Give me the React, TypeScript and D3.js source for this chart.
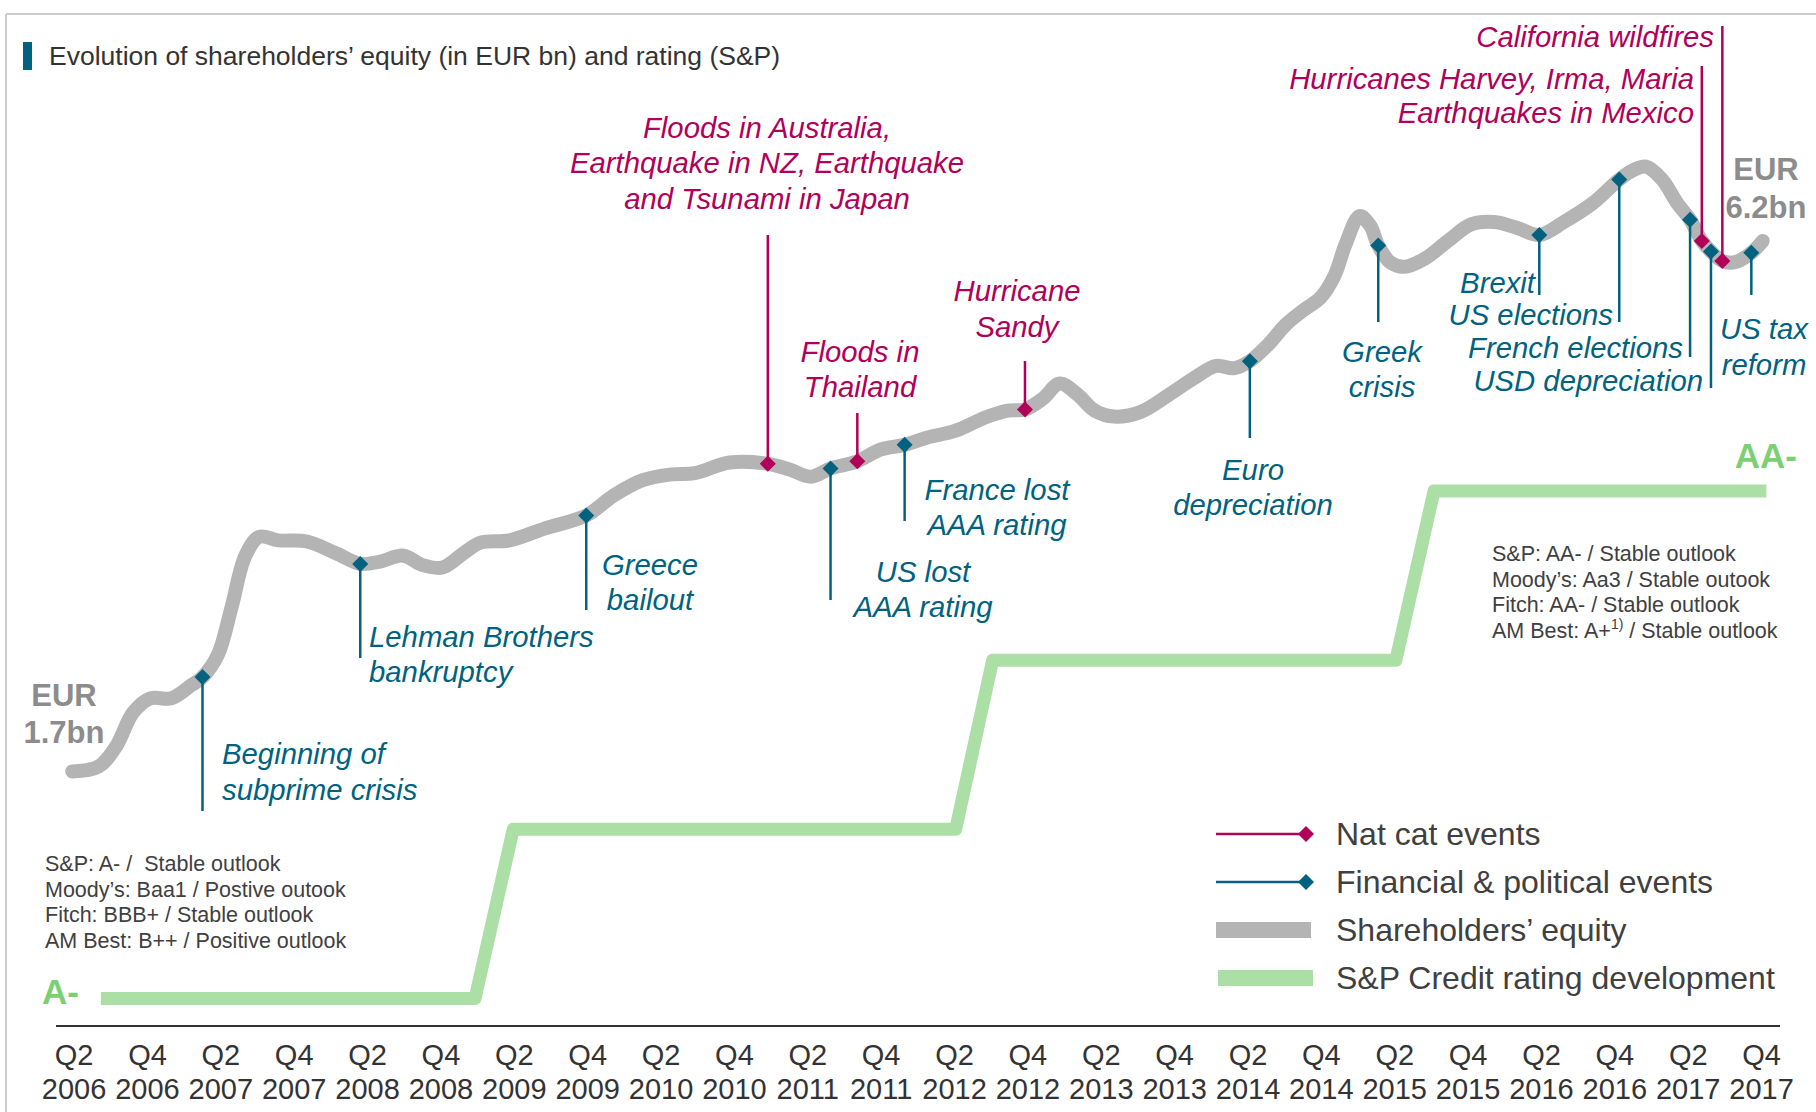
import React from "react";
import * as d3 from "d3";

// ---------- DATA ----------
const quarterLabels = ["Q2","Q4","Q2","Q4","Q2","Q4","Q2","Q4","Q2","Q4","Q2","Q4","Q2","Q4","Q2","Q4","Q2","Q4","Q2","Q4","Q2","Q4","Q2","Q4"];
const yearLabels = ["2006","2006","2007","2007","2008","2008","2009","2009","2010","2010","2011","2011","2012","2012","2013","2013","2014","2014","2015","2015","2016","2016","2017","2017"];

// time in quarters since Q2 2006, equity in EUR bn (stylised curve)
const equityT = [-0.05,0.66,1.14,1.61,2.08,2.65,3.19,3.5,3.92,4.29,4.67,5.05,5.56,6.35,7.14,7.8,8.34,8.97,9.5,10.04,10.61,11.08,11.87,12.82,13.96,14.71,15.5,16.29,16.92,17.87,18.91,19.51,20.08,20.62,21.35,21.98,22.64,23.24,24.03,24.82,25.45,25.92,26.4,26.87,27.34,27.82,28.35,29.08,29.87,30.5,31.13,31.61,32.05,32.55,33.03,33.5,33.98,34.35,34.67,35.04,35.33,35.55,35.87,36.25,36.82,37.45,38.08,38.71,39.34,39.94,40.61,41.4,42.12,42.5,42.85,43.29,43.7,44.05,44.37,44.62,44.93,45.28,45.72,46.03];
const equityBn = [1.7,1.74,1.91,2.2,2.32,2.32,2.43,2.5,2.69,3.09,3.53,3.69,3.66,3.65,3.55,3.46,3.48,3.53,3.45,3.43,3.55,3.64,3.66,3.76,3.87,4.04,4.17,4.22,4.23,4.32,4.31,4.26,4.2,4.27,4.33,4.43,4.47,4.53,4.59,4.7,4.76,4.77,4.86,4.99,4.9,4.76,4.71,4.75,4.9,5.03,5.14,5.12,5.18,5.32,5.49,5.61,5.72,5.9,6.18,6.41,6.33,6.16,6.02,5.98,6.05,6.2,6.34,6.36,6.31,6.25,6.36,6.52,6.72,6.8,6.83,6.72,6.52,6.38,6.2,6.11,6.03,6.02,6.1,6.2];

const ratingLevels = ["A-","A","A+","AA-"];
const ratingT = [0.73,10.93,11.97,24.03,25.04,36.03,37.07,46.13];
const ratingIdx = [0,0,1,1,2,2,3,3];

const eventNames = ["Beginning of subprime crisis","Lehman Brothers bankruptcy","Greece bailout","Floods in Australia, Earthquake in NZ, Earthquake and Tsunami in Japan","US lost AAA rating","Floods in Thailand","France lost AAA rating","Hurricane Sandy","Euro depreciation","Greek crisis","Brexit","US elections","French elections","Hurricanes Harvey, Irma, Maria Earthquakes in Mexico","USD depreciation","California wildfires","US tax reform"];
const eventTypes = ["fin","fin","fin","cat","fin","cat","fin","cat","fin","fin","fin","fin","fin","cat","fin","cat","fin"];
const eventT = [3.5,7.8,13.96,18.91,20.62,21.35,22.64,25.92,32.05,35.55,39.94,42.12,44.05,44.37,44.62,44.93,45.72];

const leftRatings = ["S&P: A- /\u00a0 Stable outlook","Moody\u2019s: Baa1 / Postive outook","Fitch: BBB+ / Stable outlook","AM Best: B++ / Positive outlook"];
const rightRatings = ["S&P: AA- / Stable outlook","Moody\u2019s: Aa3 / Stable outook","Fitch: AA- / Stable outlook","AM Best: A+"];

const legendLabels = ["Nat cat events","Financial & political events","Shareholders\u2019 equity","S&P Credit rating development"];

// ---------- LAYOUT (annotation placement) ----------
const annotLayout = [
  { stem: 811, anchor: "start", x: 222, lines: ["Beginning of","subprime crisis"], ys: [753, 789] },
  { stem: 658, anchor: "start", x: 369, lines: ["Lehman Brothers","bankruptcy"], ys: [636, 671] },
  { stem: 610, anchor: "middle", x: 650, lines: ["Greece","bailout"], ys: [564, 599] },
  { stem: 235, anchor: "middle", x: 767, lines: ["Floods in Australia,","Earthquake in NZ, Earthquake","and Tsunami in Japan"], ys: [127, 162, 198] },
  { stem: 600, anchor: "middle", x: 923, lines: ["US lost","AAA rating"], ys: [571, 606] },
  { stem: 413, anchor: "middle", x: 860, lines: ["Floods in","Thailand"], ys: [351, 386] },
  { stem: 521, anchor: "middle", x: 997, lines: ["France lost","AAA rating"], ys: [489, 524] },
  { stem: 361, anchor: "middle", x: 1017, lines: ["Hurricane","Sandy"], ys: [290, 326] },
  { stem: 438, anchor: "middle", x: 1253, lines: ["Euro","depreciation"], ys: [469, 504] },
  { stem: 322, anchor: "middle", x: 1382, lines: ["Greek","crisis"], ys: [351, 386] },
  { stem: 295, anchor: "end", x: 1535, lines: ["Brexit"], ys: [282] },
  { stem: 322, anchor: "end", x: 1613, lines: ["US elections"], ys: [314] },
  { stem: 357, anchor: "end", x: 1683, lines: ["French elections"], ys: [347] },
  { stem: 66, anchor: "end", x: 1694, lines: ["Hurricanes Harvey, Irma, Maria","Earthquakes in Mexico"], ys: [78, 112] },
  { stem: 388, anchor: "end", x: 1703, lines: ["USD depreciation"], ys: [380] },
  { stem: 26, anchor: "end", x: 1714, lines: ["California wildfires"], ys: [36] },
  { stem: 295, anchor: "middle", x: 1764, lines: ["US tax","reform"], ys: [328, 364] },
];

const W = 1816;
const H = 1112;
const MAGENTA = "#b1005a";
const TEAL = "#00627f";
const GREY_LINE = "#b4b4b4";
const GREEN_LINE = "#acdfa6";
const GREEN_TEXT = "#7dcf74";
const TEXT = "#404040";
const FONT = "'Liberation Sans', Arial, Helvetica, sans-serif";

export default function App() {
  const x = d3.scaleLinear().domain([0, 46]).range([74.1, 1761.6]);
  const yEq = d3.scaleLinear().domain([1.7, 6.2]).range([771.4, 240.9]);
  const yRt = d3.scaleLinear().domain([0, 3]).range([998.4, 491.1]);

  const eqPts = equityT.map((t, i) => [t, equityBn[i]] as [number, number]);
  const eqLine = d3
    .line<[number, number]>()
    .x((d) => x(d[0]))
    .y((d) => yEq(d[1]))
    .curve(d3.curveCatmullRom.alpha(0.5));

  const rtPts = ratingT.map((t, i) => [t, ratingIdx[i]] as [number, number]);
  const rtLine = d3
    .line<[number, number]>()
    .x((d) => x(d[0]))
    .y((d) => yRt(d[1]));

  const eqAt = (t: number) => {
    const i = Math.max(1, Math.min(equityT.length - 1, d3.bisectLeft(equityT, t)));
    const t0 = equityT[i - 1], t1 = equityT[i];
    const f = (t - t0) / (t1 - t0);
    return equityBn[i - 1] + f * (equityBn[i] - equityBn[i - 1]);
  };

  const diamond = (cx: number, cy: number, r: number) =>
    `M${cx},${cy - r}L${cx + r},${cy}L${cx},${cy + r}L${cx - r},${cy}Z`;

  const legendY = [834, 882, 930, 978];

  return (
    <svg
      width={W}
      height={H}
      viewBox={`0 0 ${W} ${H}`}
      style={{ position: "absolute", left: 0, top: 0, background: "#fff" }}
      fontFamily={FONT}
    >
      <rect x={0} y={0} width={W} height={H} fill="#fff" />
      {/* frame */}
      <line x1={6} y1={14} x2={W} y2={14} stroke="#cccccc" strokeWidth={2} />
      <line x1={6} y1={14} x2={6} y2={H} stroke="#cccccc" strokeWidth={2} />

      {/* title */}
      <rect x={23} y={42} width={9} height={28} fill={TEAL} />
      <text x={49} y={56} dominantBaseline="central" fontSize={26.5} fill="#333">
        Evolution of shareholders’ equity (in EUR bn) and rating (S&amp;P)
      </text>

      {/* rating step line */}
      <path d={rtLine(rtPts) || ""} fill="none" stroke={GREEN_LINE} strokeWidth={13} strokeLinejoin="round" />

      {/* equity line */}
      <path d={eqLine(eqPts) || ""} fill="none" stroke={GREY_LINE} strokeWidth={14} strokeLinecap="round" strokeLinejoin="round" />

      {/* events */}
      {eventT.map((t, i) => {
        const cx = x(t);
        const cy = yEq(eqAt(t));
        const col = eventTypes[i] === "cat" ? MAGENTA : TEAL;
        const L = annotLayout[i];
        return (
          <g key={eventNames[i]}>
            <line x1={cx} y1={cy} x2={cx} y2={L.stem} stroke={col} strokeWidth={2.5} />
            <path d={diamond(cx, cy, 8)} fill={col} />
            <text textAnchor={L.anchor as any} fontSize={29.3} fontStyle="italic" fill={col}>
              {L.lines.map((ln, j) => (
                <tspan key={j} x={L.x} y={L.ys[j]} dominantBaseline="central">
                  {ln}
                </tspan>
              ))}
            </text>
          </g>
        );
      })}

      {/* EUR labels */}
      <text textAnchor="middle" fontSize={31} fontWeight="bold" fill="#8c8c8c">
        <tspan x={64} y={695} dominantBaseline="central">EUR</tspan>
        <tspan x={64} y={732} dominantBaseline="central">1.7bn</tspan>
      </text>
      <text textAnchor="middle" fontSize={31} fontWeight="bold" fill="#8c8c8c">
        <tspan x={1766} y={169} dominantBaseline="central">EUR</tspan>
        <tspan x={1766} y={207} dominantBaseline="central">6.2bn</tspan>
      </text>

      {/* rating level labels */}
      <text x={42} y={yRt(0) - 7} dominantBaseline="central" fontSize={35} fontWeight="bold" fill={GREEN_TEXT}>
        {ratingLevels[0]}
      </text>
      <text x={1797} y={yRt(3) - 36} textAnchor="end" dominantBaseline="central" fontSize={35} fontWeight="bold" fill={GREEN_TEXT}>
        {ratingLevels[3]}
      </text>

      {/* rating boxes */}
      {leftRatings.map((s, i) => (
        <text key={s} x={45} y={864 + i * 25.5} dominantBaseline="central" fontSize={21.5} fill={TEXT}>
          {s}
        </text>
      ))}
      {rightRatings.map((s, i) => (
        <text key={s} x={1492} y={554 + i * 25.5} dominantBaseline="central" fontSize={21.5} fill={TEXT}>
          {s}
          {i === 3 ? (
            <>
              <tspan fontSize={14} dy={-7}>1)</tspan>
              <tspan dy={7}> / Stable outlook</tspan>
            </>
          ) : null}
        </text>
      ))}

      {/* legend */}
      <line x1={1216} y1={legendY[0]} x2={1304} y2={legendY[0]} stroke={MAGENTA} strokeWidth={2.5} />
      <path d={diamond(1306, legendY[0], 8)} fill={MAGENTA} />
      <line x1={1216} y1={legendY[1]} x2={1304} y2={legendY[1]} stroke={TEAL} strokeWidth={2.5} />
      <path d={diamond(1306, legendY[1], 8)} fill={TEAL} />
      <rect x={1216} y={legendY[2] - 8} width={95} height={16} fill={GREY_LINE} />
      <rect x={1218} y={legendY[3] - 8} width={95} height={16} fill={GREEN_LINE} />
      {legendLabels.map((s, i) => (
        <text key={s} x={1336} y={legendY[i]} dominantBaseline="central" fontSize={32} fill={TEXT}>
          {s}
        </text>
      ))}

      {/* x axis */}
      <line x1={56} y1={1026} x2={1780} y2={1026} stroke="#333" strokeWidth={2} />
      {quarterLabels.map((q, i) => (
        <g key={i}>
          <text x={x(i * 2)} y={1055} textAnchor="middle" dominantBaseline="central" fontSize={29} fill="#333">
            {q}
          </text>
          <text x={x(i * 2)} y={1089} textAnchor="middle" dominantBaseline="central" fontSize={29} fill="#333">
            {yearLabels[i]}
          </text>
        </g>
      ))}
    </svg>
  );
}
